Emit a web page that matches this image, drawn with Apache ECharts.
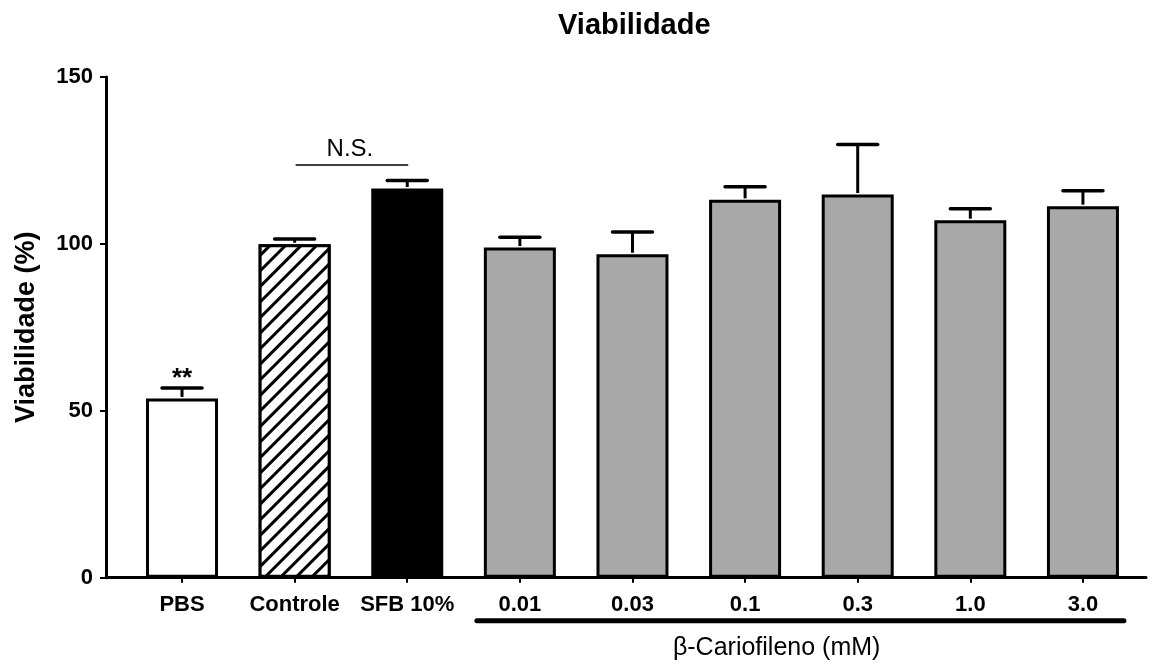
<!DOCTYPE html>
<html>
<head>
<meta charset="utf-8">
<script src="https://cdn.jsdelivr.net/npm/echarts@6/dist/echarts.min.js"></script>
<style>
html,body{margin:0;padding:0;background:#fff;}
#chart{width:1157px;height:666px;}
</style>
</head>
<body>
<div id="chart"></div>
<script>
// ---- data ----
var categories = ['PBS', 'Controle', 'SFB 10%', '0.01', '0.03', '0.1', '0.3', '1.0', '3.0'];
var means = [53.7, 99.9, 116.6, 98.9, 96.9, 113.2, 114.8, 107.1, 111.3];
var sems = [3.1, 1.6, 2.4, 3.1, 6.7, 3.9, 15.0, 3.4, 4.6];
var marks = ['**', '', '', '', '', '', '', '', ''];
var yTicks = [0, 50, 100, 150];
var nsPair = [1, 2];
var nsValue = 123.6;
var groupRange = [3, 8];
var groupLabel = 'β-Cariofileno (mM)';
var titleText = 'Viabilidade';
var yName = 'Viabilidade (%)';

var FONT = "'Liberation Sans', Arial, Helvetica, sans-serif";
var GRAY = '#a8a8a8';

var barData = means.map(function (v, i) {
  var style = { color: GRAY, borderColor: '#000', borderWidth: 3 };
  if (i === 0) style.color = '#fff';
  if (i === 1) {
    style.color = '#fff';
    style.decal = {
      symbol: 'rect',
      symbolSize: 1,
      dashArrayX: [1, 0],
      dashArrayY: [2.4, 7.6],
      rotation: -Math.PI / 4,
      color: '#000',
      backgroundColor: '#fff'
    };
  }
  if (i === 2) style.color = '#000';
  return { value: [i, v], itemStyle: style };
});
var errData = means.map(function (v, i) { return [i, v, sems[i]]; });
var idxValues = categories.map(function (c, i) { return i; });

var chart = echarts.init(document.getElementById('chart'), null, { renderer: 'canvas' });

var option = {
  backgroundColor: '#fff',
  animation: false,
  title: {
    text: titleText,
    left: 553,
    top: 6,
    textStyle: { fontFamily: FONT, fontSize: 29, fontWeight: 'bold', color: '#000' }
  },
  grid: { left: 106, top: 77, width: 1040, bottom: 88.3, containLabel: false },
  xAxis: {
    type: 'value',
    min: -0.675,
    max: 8.56,
    splitLine: { show: false },
    axisLine: { show: true, onZero: false, lineStyle: { color: '#000', width: 3 } },
    axisTick: { show: true, customValues: idxValues, length: 5, lineStyle: { color: '#000', width: 2 } },
    axisLabel: {
      show: true,
      customValues: idxValues,
      margin: 16,
      fontFamily: FONT, fontSize: 22, fontWeight: 'bold', color: '#000',
      formatter: function (v) { return categories[Math.round(v)]; }
    }
  },
  yAxis: {
    type: 'value',
    min: 0,
    max: 150,
    interval: 50,
    name: yName,
    nameLocation: 'middle',
    nameGap: 66,
    nameTextStyle: { fontFamily: FONT, fontSize: 27, fontWeight: 'bold', color: '#000' },
    splitLine: { show: false },
    axisLine: { show: true, onZero: false, lineStyle: { color: '#000', width: 3 } },
    axisTick: { show: true, length: 6, lineStyle: { color: '#000', width: 2 } },
    axisLabel: {
      margin: 13,
      fontFamily: FONT, fontSize: 22, fontWeight: 'bold', color: '#000',
      formatter: function (v) { return yTicks.indexOf(v) >= 0 ? String(v) : ''; }
    }
  },
  series: [
    {
      type: 'bar',
      barWidth: 72,
      data: barData,
      z: 2
    },
    {
      type: 'custom',
      z: 3,
      data: errData,
      renderItem: function (params, api) {
        var x = api.value(0), m = api.value(1), e = api.value(2);
        var base = api.coord([x, m]);
        var top = api.coord([x, m + e]);
        var children = [
          { type: 'line', shape: { x1: base[0], y1: base[1] - 1.5, x2: top[0], y2: top[1] }, style: { stroke: '#000', lineWidth: 3 } },
          { type: 'line', shape: { x1: top[0] - 20, y1: top[1], x2: top[0] + 20, y2: top[1] }, style: { stroke: '#000', lineWidth: 3.5, lineCap: 'round' } }
        ];
        var mk = marks[params.dataIndex];
        if (mk) {
          children.push({
            type: 'text',
            x: top[0], y: top[1] - 9,
            style: { text: mk, fontFamily: FONT, fontSize: 26, fontWeight: 'bold', fill: '#000', align: 'center', verticalAlign: 'middle' }
          });
        }
        return { type: 'group', children: children };
      }
    }
  ]
};
chart.setOption(option);

function px(x, y) { return chart.convertToPixel({ xAxisIndex: 0, yAxisIndex: 0 }, [x, y]); }
var nsA = px(nsPair[0], nsValue), nsB = px(nsPair[1], nsValue);
var zero = px(0, 0);
var gA = px(groupRange[0], 0), gB = px(groupRange[1], 0);
var halfBar = 36;
var bx1 = gA[0] - halfBar - 7, bx2 = gB[0] + halfBar + 5;
var by = zero[1] + 43;
var labelX = px(5.28, 0)[0];

chart.setOption({
  graphic: [
    { type: 'line', shape: { x1: nsA[0] + 1, y1: nsA[1], x2: nsB[0] + 1, y2: nsB[1] }, style: { stroke: '#000', lineWidth: 1.5 } },
    { type: 'text', x: (nsA[0] + nsB[0]) / 2 - 1, y: nsA[1] - 4,
      style: { text: 'N.S.', fontFamily: FONT, fontSize: 24, fill: '#000', align: 'center', verticalAlign: 'bottom' } },
    { type: 'line', shape: { x1: bx1, y1: by, x2: bx2, y2: by }, style: { stroke: '#000', lineWidth: 5, lineCap: 'round' } },
    { type: 'text', x: labelX, y: by + 27,
      style: { text: groupLabel, fontFamily: FONT, fontSize: 25, fill: '#000', align: 'center', verticalAlign: 'middle' } }
  ]
});
</script>
</body>
</html>
